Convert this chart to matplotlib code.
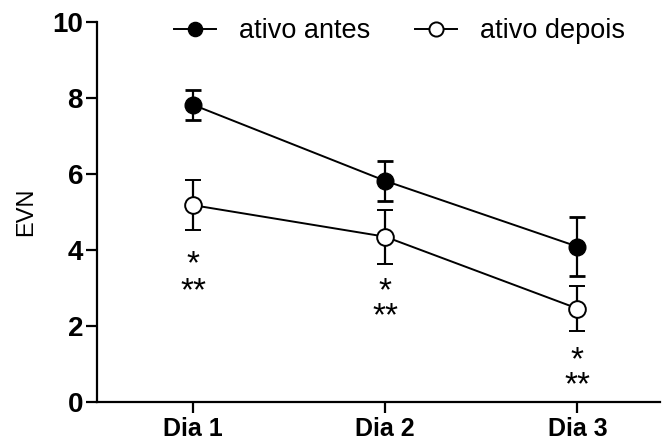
import matplotlib
matplotlib.use("Agg")
import matplotlib.pyplot as plt
from matplotlib.transforms import offset_copy

plt.rcParams['font.family'] = ['Liberation Sans', 'DejaVu Sans']

categories = ["Dia 1", "Dia 2", "Dia 3"]
antes_mean = [7.82, 5.82, 4.09]
antes_err = [0.39, 0.52, 0.78]
depois_mean = [5.18, 4.35, 2.46]
depois_err = [0.65, 0.71, 0.59]
star1_y = [3.76, 3.03, 1.24]
star2_y = [3.03, 2.38, 0.56]
yticks = [0, 2, 4, 6, 8, 10]

x = [1, 2, 3]

fig = plt.figure(figsize=(6.62, 4.38), dpi=100)
ax = fig.add_axes([97/662, 36/438, (660-97)/662, 380/438])

ax.errorbar(x, antes_mean, yerr=antes_err, color='black', marker='o', markersize=12,
            markerfacecolor='black', markeredgecolor='black', lw=1.4, capsize=6,
            capthick=2, elinewidth=1.6, label='ativo antes', zorder=3)
ax.errorbar(x, depois_mean, yerr=depois_err, color='black', marker='o', markersize=12,
            markerfacecolor='white', markeredgecolor='black', markeredgewidth=1.4,
            lw=1.4, capsize=6, capthick=2, elinewidth=1.6, label='ativo depois', zorder=3)

star_tr = offset_copy(ax.transData, fig=fig, x=0, y=-10, units='points')
for xi, a, b in zip(x, star1_y, star2_y):
    ax.text(xi, a, '*', ha='center', va='baseline', fontsize=24, transform=star_tr)
    ax.text(xi, b, '**', ha='center', va='baseline', fontsize=24, transform=star_tr)

ax.set_xlim(0.5, 3.43)
ax.set_ylim(0, 10)
ax.set_yticks(yticks)
ax.set_yticklabels([str(v) for v in yticks], fontsize=20, fontweight='bold')
ax.set_xticks(x)
ax.set_xticklabels(categories, fontsize=18, fontweight='bold')
ax.set_ylabel('EVN', fontsize=17, labelpad=11)

for s in ['top', 'right']:
    ax.spines[s].set_visible(False)
for s in ['left', 'bottom']:
    ax.spines[s].set_linewidth(1.6)
ax.tick_params(axis='both', direction='out', length=8, width=1.6)
ax.tick_params(axis='y', pad=2)
ax.tick_params(axis='x', pad=3)

handles, labels = ax.get_legend_handles_labels()
handles = [h[0] for h in handles]
ax.legend(handles, labels, loc='center', bbox_to_anchor=(0.537, 0.975), ncol=2,
          frameon=False, fontsize=19.5, handlelength=1.55, handletextpad=0.85,
          columnspacing=1.67, markerscale=0.85)

fig.savefig('out.png', dpi=100)
